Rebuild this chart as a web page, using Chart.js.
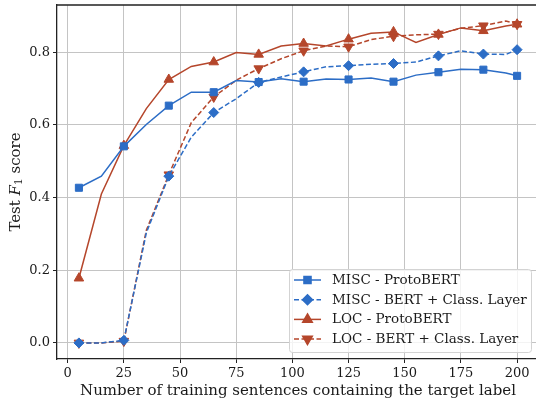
<!DOCTYPE html>
<html>
<head>
<meta charset="utf-8">
<script src="https://cdn.jsdelivr.net/npm/chart.js@4/dist/chart.umd.min.js"></script>
<style>
  html, body { margin: 0; padding: 0; background: #fff; overflow: hidden; }
  #wrap { position: relative; width: 539px; height: 406px; }
</style>
</head>
<body>
<div id="wrap"><canvas id="graph"></canvas></div>
<script>
const trainSizes = [5, 15, 25, 35, 45, 55, 65, 75, 85, 95, 105, 115, 125, 135, 145, 155, 165, 175, 185, 195, 200];
const miscProto = [0.427, 0.459, 0.541, 0.601, 0.653, 0.690, 0.690, 0.722, 0.718, 0.727, 0.719, 0.726, 0.725, 0.729, 0.719, 0.737, 0.745, 0.753, 0.752, 0.743, 0.735];
const miscBert = [0.0, 0.0, 0.007, 0.303, 0.459, 0.566, 0.634, 0.672, 0.717, 0.732, 0.746, 0.760, 0.763, 0.767, 0.769, 0.773, 0.790, 0.804, 0.795, 0.794, 0.807];
const locProto = [0.178, 0.410, 0.543, 0.645, 0.725, 0.761, 0.773, 0.799, 0.794, 0.817, 0.824, 0.817, 0.836, 0.852, 0.856, 0.827, 0.849, 0.867, 0.859, 0.872, 0.877];
const locBert = [0.0, 0.0, 0.005, 0.310, 0.463, 0.606, 0.677, 0.723, 0.755, 0.782, 0.804, 0.817, 0.815, 0.835, 0.844, 0.848, 0.850, 0.866, 0.873, 0.886, 0.877];
const xTicks = [0, 25, 50, 75, 100, 125, 150, 175, 200];
const yTicks = [0.0, 0.2, 0.4, 0.6, 0.8];

const BLUE = '#2c6dc6';
const RED = '#b5462b';
const FONT = "'DejaVu Serif', 'Liberation Serif', serif";

const toPoints = vals => trainSizes.map((x, i) => ({ x: x, y: vals[i] }));
// markers on every other point (plus the last one)
const markEvery = r => ctx => (ctx.dataIndex % 2 === 0 ? r : 0);

function series(label, vals, color, style, radius, dashed, rotation) {
  return {
    label: label,
    data: toPoints(vals),
    borderColor: color,
    backgroundColor: color,
    borderWidth: 1.5,
    borderDash: dashed ? [5, 2.5] : [],
    pointStyle: style,
    pointRotation: rotation || 0,
    pointRadius: markEvery(radius),
    pointHoverRadius: markEvery(radius),
    pointBorderWidth: 1,
    tension: 0,
    fill: false
  };
}

const frame = {
  id: 'frame',
  afterDatasetsDraw(chart) {
    const a = chart.chartArea;
    const ctx = chart.ctx;
    ctx.save();
    ctx.strokeStyle = '#222';
    ctx.lineWidth = 1.3;
    ctx.beginPath();
    ctx.moveTo(a.left, a.top);
    ctx.lineTo(a.right, a.top);
    ctx.lineTo(a.right, a.bottom);
    ctx.stroke();
    ctx.restore();
  }
};

const legendBox = {
  id: 'legendBox',
  afterDraw(chart) {
    const a = chart.chartArea;
    const ctx = chart.ctx;
    const w = 242, h = 83;
    const x0 = a.right - 8 - w, y0 = a.bottom - 7 - h;
    ctx.save();
    ctx.fillStyle = 'rgba(255,255,255,0.8)';
    ctx.strokeStyle = '#d3d3d3';
    ctx.lineWidth = 1;
    ctx.beginPath();
    ctx.roundRect(Math.round(x0) + 0.5, Math.round(y0) + 0.5, w, h, 3);
    ctx.fill();
    ctx.stroke();
    chart.data.datasets.forEach((ds, i) => {
      const y = y0 + 11 + i * 19.7;
      ctx.strokeStyle = ds.borderColor;
      ctx.lineWidth = ds.borderWidth;
      ctx.setLineDash(ds.borderDash);
      ctx.beginPath();
      ctx.moveTo(x0 + 5, y);
      ctx.lineTo(x0 + 32, y);
      ctx.stroke();
      ctx.setLineDash([]);
      ctx.fillStyle = ds.backgroundColor;
      Chart.helpers.drawPoint(ctx, {
        pointStyle: ds.pointStyle,
        rotation: ds.pointRotation,
        radius: ds.pointStyle === 'triangle' ? 5.5 : 5,
        borderWidth: 1
      }, x0 + 18.5, y);
      ctx.fillStyle = '#1a1a1a';
      ctx.font = '13.5px ' + FONT;
      ctx.textAlign = 'left';
      ctx.textBaseline = 'middle';
      ctx.fillText(ds.label, x0 + 43, y + 0.5);
    });
    ctx.restore();
  }
};

const axisTitles = {
  id: 'axisTitles',
  afterDraw(chart) {
    const ctx = chart.ctx;
    const area = chart.chartArea;
    ctx.save();
    ctx.fillStyle = '#1a1a1a';
    ctx.textBaseline = 'middle';
    ctx.textAlign = 'center';
    ctx.font = '15px ' + FONT;
    ctx.fillText('Number of training sentences containing the target label', (area.left + area.right) / 2, area.bottom + 32);

    // y title: "Test F_1 score" with italic F and subscript 1
    const parts = [
      { t: 'Test ', f: '15px ' + FONT, dy: 0 },
      { t: 'F', f: 'italic 15px ' + FONT, dy: 0 },
      { t: '1', f: '10.5px ' + FONT, dy: 3.5 },
      { t: ' score', f: '15px ' + FONT, dy: 0 }
    ];
    let total = 0;
    parts.forEach(p => { ctx.font = p.f; p.w = ctx.measureText(p.t).width; total += p.w; });
    ctx.translate(16, (area.top + area.bottom) / 2);
    ctx.rotate(-Math.PI / 2);
    ctx.textAlign = 'left';
    let cx = -total / 2;
    parts.forEach(p => {
      ctx.font = p.f;
      ctx.fillText(p.t, cx, p.dy);
      cx += p.w;
    });
    ctx.restore();
  }
};

new Chart(document.getElementById('graph'), {
  type: 'line',
  data: {
    datasets: [
      series('MISC - ProtoBERT', miscProto, BLUE, 'rect', 5, false),
      series('MISC - BERT + Class. Layer', miscBert, BLUE, 'rectRot', 5, true),
      series('LOC - ProtoBERT', locProto, RED, 'triangle', 5.5, false),
      series('LOC - BERT + Class. Layer', locBert, RED, 'triangle', 5.5, true, 180)
    ]
  },
  options: {
    responsive: true,
    maintainAspectRatio: false,
    animation: false,
    layout: { autoPadding: false, padding: { top: 5, right: 0, bottom: 0, left: 0 } },
    plugins: {
      legend: { display: false },
      tooltip: { enabled: false }
    },
    scales: {
      x: {
        type: 'linear',
        min: -4.75,
        max: 209.75,
        afterBuildTicks: s => { s.ticks = xTicks.map(v => ({ value: v })); },
        afterFit: s => { s.height = 47; s.paddingLeft = 0; s.paddingRight = 0; },
        grid: { color: '#c4c4c4', lineWidth: 1, tickColor: '#222', tickLength: 4 },
        border: { color: '#222', width: 1.3 },
        ticks: {
          color: '#1a1a1a',
          font: { family: FONT, size: 13 },
          padding: 3,
          maxRotation: 0,
          callback: v => String(v)
        }
      },
      y: {
        min: -0.0443,
        max: 0.930,
        afterBuildTicks: s => { s.ticks = yTicks.map(v => ({ value: v })); },
        afterFit: s => { s.width = 57; s.paddingTop = 0; s.paddingBottom = 0; },
        grid: { color: '#c4c4c4', lineWidth: 1, tickColor: '#222', tickLength: 4 },
        border: { color: '#222', width: 1.3 },
        ticks: {
          color: '#1a1a1a',
          font: { family: FONT, size: 13 },
          padding: 3,
          callback: v => v.toFixed(1)
        }
      }
    }
  },
  plugins: [frame, legendBox, axisTitles]
});
</script>
</body>
</html>
